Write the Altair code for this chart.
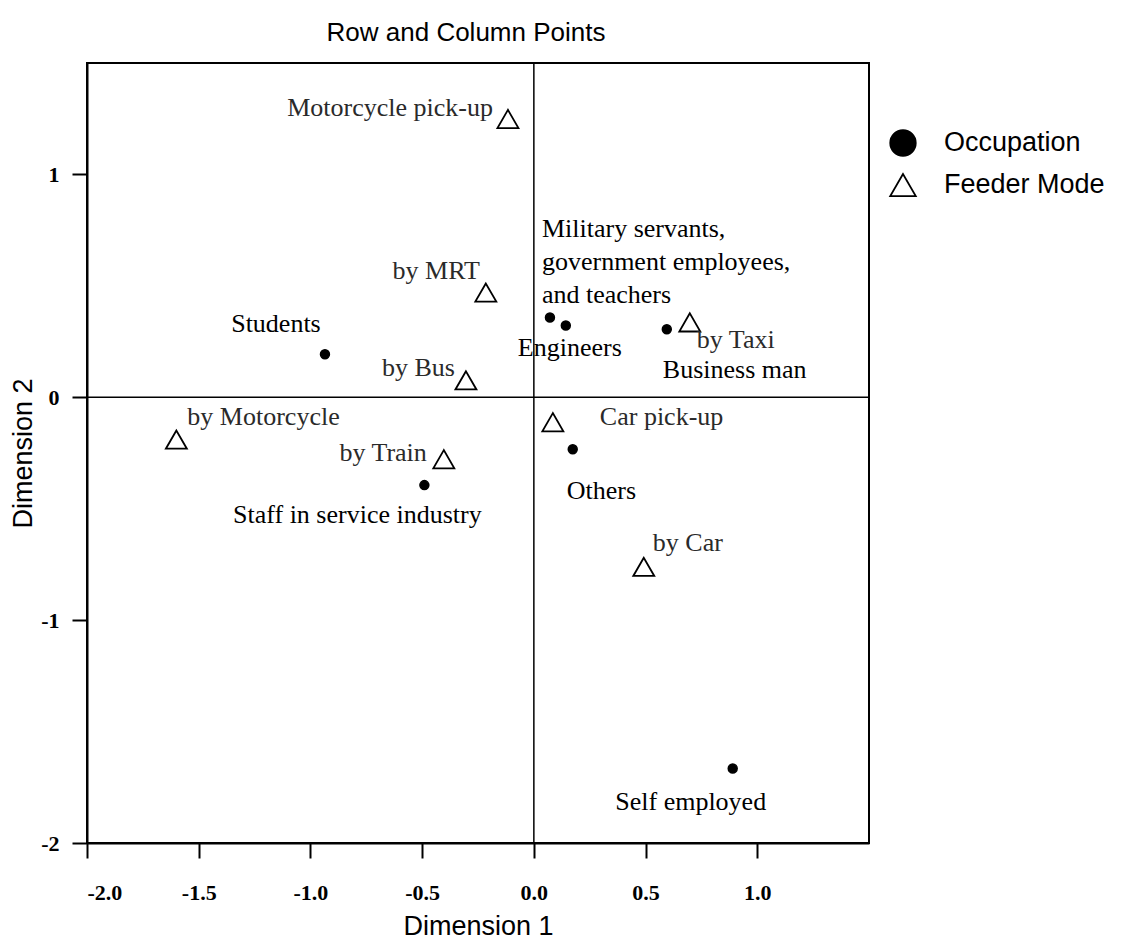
import altair as alt
import pandas as pd

# ---- data ----
occ_labels = ["Students", "Military servants,\ngovernment employees,\nand teachers", "Engineers",
              "Business man", "Staff in service industry", "Others", "Self employed"]
occ_x = [-0.935, 0.072, 0.143, 0.595, -0.490, 0.174, 0.890]
occ_y = [0.193, 0.358, 0.322, 0.305, -0.394, -0.233, -1.666]

mode_labels = ["Motorcycle pick-up", "by MRT", "by Bus", "by Motorcycle", "by Train",
               "Car pick-up", "by Car", "by Taxi"]
mode_x = [-0.116, -0.215, -0.304, -1.600, -0.403, 0.085, 0.492, 0.698]
mode_y = [1.249, 0.470, 0.076, -0.190, -0.278, -0.112, -0.761, 0.336]

x_ticks = [-2.0, -1.5, -1.0, -0.5, 0.0, 0.5, 1.0]
y_ticks = [1, 0, -1, -2]
groups = ["Occupation", "Feeder Mode"]

# label placement styles (align, dx, dy) in pixels
occ_style = {
    "Students": ("center", -49, -30),
    "Military servants,\ngovernment employees,\nand teachers": ("left", -8, -89),
    "Engineers": ("center", 4, 22),
    "Business man": ("left", -4, 41),
    "Staff in service industry": ("center", -67, 30),
    "Others": ("left", -6, 42),
    "Self employed": ("center", -42, 33),
}
mode_style = {
    "Motorcycle pick-up": ("right", -15, -11),
    "by MRT": ("right", -6, -22),
    "by Bus": ("right", -11, -12),
    "by Motorcycle": ("left", 11, -23),
    "by Train": ("right", -17, -6),
    "Car pick-up": ("left", 47, -5),
    "by Car": ("left", 9, -24),
    "by Taxi": ("left", 7, 18),
}

occ = pd.DataFrame({"label": occ_labels, "x": occ_x, "y": occ_y, "group": groups[0]})
mode = pd.DataFrame({"label": mode_labels, "x": mode_x, "y": mode_y, "group": groups[1]})
pts = pd.concat([occ, mode], ignore_index=True)

xs = alt.Scale(domain=[-2.0, 1.5], nice=False, zero=False)
ys = alt.Scale(domain=[-2.0, 1.5], nice=False, zero=False)

X = alt.X("x:Q", scale=xs, title="Dimension 1",
          axis=alt.Axis(values=x_ticks, labelExpr="replace(format(datum.value, '.1f'), '\u2212', '-')",
                        tickSize=15, labelPadding=24, titlePadding=10))
Y = alt.Y("y:Q", scale=ys, title="Dimension 2",
          axis=alt.Axis(values=y_ticks, labelExpr="replace(format(datum.value, 'd'), '\u2212', '-')",
                        tickSize=15, labelPadding=13, titlePadding=3))

shape_sc = alt.Scale(domain=groups, range=["circle", "triangle-up"])
fill_sc = alt.Scale(domain=groups, range=["black", "white"])
stroke_sc = alt.Scale(domain=groups, range=["black", "black"])
leg = alt.Legend(title=None, orient="none", legendX=802, legendY=66, labelLimit=0)

vline = alt.Chart(pd.DataFrame({"x": [0.0]})).mark_rule(color="black", strokeWidth=1.5).encode(
    x=alt.X("x:Q", scale=xs))
hline = alt.Chart(pd.DataFrame({"y": [0.0]})).mark_rule(color="black", strokeWidth=1.5).encode(
    y=alt.Y("y:Q", scale=ys))

points_occ = alt.Chart(pts).transform_filter(alt.datum.group == groups[0]).mark_point(
    filled=True, size=80, opacity=1, strokeWidth=1.5
).encode(
    x=X, y=Y,
    shape=alt.Shape("group:N", scale=shape_sc, legend=leg),
    fill=alt.Fill("group:N", scale=fill_sc, legend=leg),
    stroke=alt.Stroke("group:N", scale=stroke_sc, legend=leg),
)
points_mode = alt.Chart(pts).transform_filter(alt.datum.group == groups[1]).mark_point(
    filled=True, size=441, opacity=1, strokeWidth=1.8
).encode(
    x=X, y=Y,
    shape=alt.Shape("group:N", scale=shape_sc, legend=leg),
    fill=alt.Fill("group:N", scale=fill_sc, legend=leg),
    stroke=alt.Stroke("group:N", scale=stroke_sc, legend=leg),
)

text_layers = []
for lab, (al, dx, dy) in occ_style.items():
    text_layers.append(
        alt.Chart(occ).transform_filter(alt.datum.label == lab).mark_text(
            align=al, baseline="middle", dx=dx, dy=dy, font="Liberation Serif",
            fontSize=26, color="black", lineBreak="\n", lineHeight=33
        ).encode(x=alt.X("x:Q", scale=xs), y=alt.Y("y:Q", scale=ys), text="label:N")
    )
for lab, (al, dx, dy) in mode_style.items():
    text_layers.append(
        alt.Chart(mode).transform_filter(alt.datum.label == lab).mark_text(
            align=al, baseline="middle", dx=dx, dy=dy, font="Liberation Serif",
            fontSize=26, color="#2a2a2a"
        ).encode(x=alt.X("x:Q", scale=xs), y=alt.Y("y:Q", scale=ys), text="label:N")
    )

chart = alt.layer(vline, hline, points_mode, points_occ, *text_layers).properties(
    width=782, height=780,
    title=alt.TitleParams("Row and Column Points", font="Liberation Sans", fontSize=26,
                          fontWeight="normal", color="black", offset=16, dx=-12),
    padding={"left": 1, "top": 12, "right": 5, "bottom": 5},
).configure_view(
    stroke="black", strokeWidth=2
).configure_axis(
    grid=False, domainColor="black", domainWidth=2, tickColor="black", tickWidth=2,
    labelFont="Liberation Serif", labelFontSize=22, labelFontWeight="bold", labelColor="black",
    titleFont="Liberation Sans", titleFontSize=27, titleFontWeight="normal", titleColor="black",
).configure_legend(
    labelFont="Liberation Sans", labelFontSize=27, labelColor="black",
    symbolSize=650, symbolStrokeColor="black", symbolStrokeWidth=1.8,
    labelOffset=27, rowPadding=10, padding=0, labelLimit=0,
).resolve_scale(shape="shared", fill="shared", stroke="shared")

chart.save("out.html", embed_options={"renderer": "svg", "actions": False})
